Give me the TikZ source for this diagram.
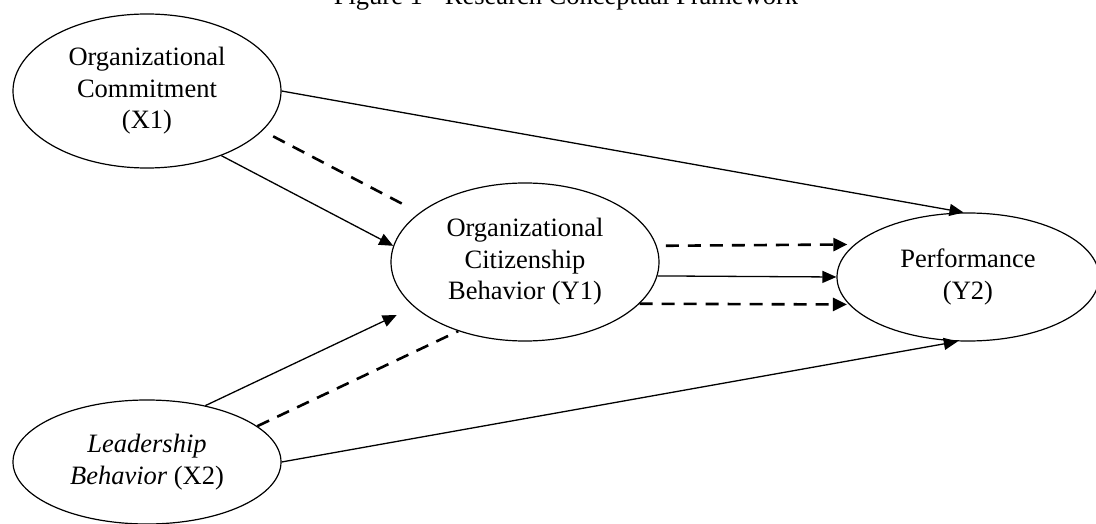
\documentclass[tikz,border=0pt]{standalone}
\usepackage{fontspec}
\setmainfont{Liberation Serif}
\usetikzlibrary{shapes.geometric,arrows.meta}
\begin{document}
\begin{tikzpicture}[x=1pt,y=-1pt,
  construct/.style={draw, ellipse, line width=1.2pt, inner sep=0pt, align=center,
    font=\fontsize{26.5}{31.5}\selectfont},
  solidarrow/.style={line width=1.3pt, -{Triangle[length=14pt,width=12pt]}},
  dashedlink/.style={line width=2.6pt, dash pattern=on 13pt off 9pt},
  dashedarrow/.style={dashedlink, -{Triangle[length=14pt,width=13pt]}}]
\useasboundingbox (0,0) rectangle (1096,524);
\clip (0,0) rectangle (1096,524);
\node[anchor=base, font=\fontsize{26.5}{31.5}\selectfont] (title) at (566,5) {Figure 1 - Research Conceptual Framework};
\node[construct, minimum width=268pt, minimum height=154pt] (X1) at (147,91) {Organizational\\Commitment\\(X1)};
\node[construct, minimum width=268pt, minimum height=124pt] (X2) at (147,462) {\textit{Leadership}\\\textit{Behavior} (X2)};
\node[construct, minimum width=268pt, minimum height=158pt] (Y1) at (525,262) {Organizational\\Citizenship\\Behavior (Y1)};
\node[construct, minimum width=262pt, minimum height=128pt] (Y2) at (968,277) {Performance\\(Y2)};
% X1 links
\draw[solidarrow] (X1.east) -- (Y2.94);
\draw[solidarrow] (X1.-41) -- (Y1.173);
\draw[dashedlink, shorten <=12pt, shorten >=12pt] (X1.-19) -- (Y1.155);
% X2 links
\draw[solidarrow, shorten >=19pt] (X2.44) -- (Y1.202);
\draw[dashedlink] (X2.18) -- (Y1.226);
\draw[solidarrow] (X2.east) -- (Y2.261);
% Y1 to Y2
\draw[dashedarrow, shorten <=9pt, shorten >=7pt] (Y1.7.4) -- (Y2.164.2);
\draw[solidarrow] (Y1.-6) -- (Y2.west);
\draw[dashedarrow, shorten >=2pt] (Y1.-20.9) -- (Y2.193.3);
\end{tikzpicture}
\end{document}
